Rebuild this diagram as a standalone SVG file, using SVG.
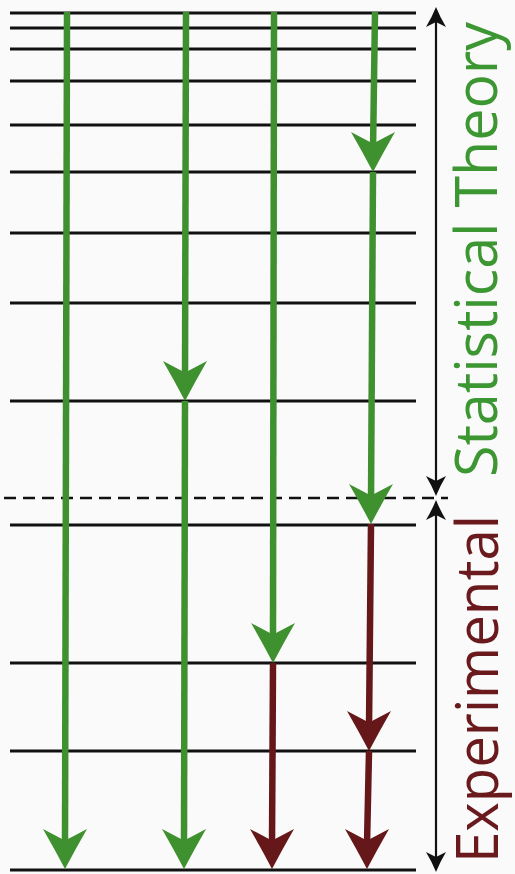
<svg xmlns="http://www.w3.org/2000/svg" width="515" height="874" viewBox="0 0 515 874">
<style>
.lvl{stroke:#111;stroke-width:3;fill:none}
.dash{stroke:#111;stroke-width:2.5;stroke-dasharray:12 7;fill:none}
.g{stroke:#3f912f;stroke-width:6.5;fill:none}
.m{stroke:#651719;stroke-width:6.5;fill:none}
.ax{stroke:#111;stroke-width:2.2;fill:none}
.lab{font-family:"Open Sans","Liberation Sans",sans-serif;font-size:58px}
</style>
<defs>
<path id="hd" d="M0,0 Q-10,-19 -22,-40 L-3,-30 L3,-30 L22,-40 Q10,-19 0,0 Z"/>
<path id="bh" d="M0,0 Q-4,-10 -10,-20 L0,-15 L10,-20 Q4,-10 0,0 Z"/>
</defs>
<rect width="515" height="874" fill="#fbfafa"/>
<g id="levels">
<line class="lvl" x1="10" y1="13" x2="416" y2="13"/>
<line class="lvl" x1="10" y1="28" x2="416" y2="28"/>
<line class="lvl" x1="10" y1="49" x2="416" y2="49"/>
<line class="lvl" x1="10" y1="81" x2="416" y2="81"/>
<line class="lvl" x1="10" y1="125" x2="416" y2="125"/>
<line class="lvl" x1="10" y1="172" x2="416" y2="172"/>
<line class="lvl" x1="10" y1="233" x2="416" y2="233"/>
<line class="lvl" x1="10" y1="303" x2="416" y2="303"/>
<line class="lvl" x1="10" y1="401" x2="416" y2="401"/>
<line class="dash" x1="4" y1="498" x2="448" y2="498"/>
<line class="lvl" x1="10" y1="525" x2="416" y2="525"/>
<line class="lvl" x1="10" y1="663" x2="416" y2="663"/>
<line class="lvl" x1="10" y1="751" x2="416" y2="751"/>
<line class="lvl" x1="10" y1="870" x2="416" y2="870"/>
</g>
<g id="connectors">
<line class="g" x1="67" y1="12" x2="65" y2="845"/>
<use href="#hd" transform="translate(65,869)" fill="#3f912f"/>
<line class="g" x1="186" y1="12" x2="185" y2="380"/>
<use href="#hd" transform="translate(185,401)" fill="#3f912f"/>
<line class="g" x1="185" y1="401" x2="184" y2="845"/>
<use href="#hd" transform="translate(184,869)" fill="#3f912f"/>
<line class="g" x1="274" y1="12" x2="273" y2="640"/>
<use href="#hd" transform="translate(273,663)" fill="#3f912f"/>
<line class="m" x1="273" y1="663" x2="272" y2="845"/>
<use href="#hd" transform="translate(272,869)" fill="#651719"/>
<line class="g" x1="375" y1="12" x2="373" y2="150"/>
<use href="#hd" transform="translate(373,172)" fill="#3f912f"/>
<line class="g" x1="373" y1="172" x2="371" y2="502"/>
<use href="#hd" transform="translate(371,524)" fill="#3f912f"/>
<line class="m" x1="371" y1="524" x2="369" y2="728"/>
<use href="#hd" transform="translate(369,751)" fill="#651719"/>
<line class="m" x1="369" y1="751" x2="367" y2="845"/>
<use href="#hd" transform="translate(367,869)" fill="#651719"/>
</g>
<g id="axis-theory">
<line class="ax" x1="436" y1="20" x2="436" y2="485"/>
<use href="#bh" transform="translate(436,7) rotate(180)" fill="#111"/>
<use href="#bh" transform="translate(436,496)" fill="#111"/>
</g>
<g id="axis-experimental">
<line class="ax" x1="436" y1="512" x2="436" y2="860"/>
<use href="#bh" transform="translate(436,500) rotate(180)" fill="#111"/>
<use href="#bh" transform="translate(436,872)" fill="#111"/>
</g>
<g id="label-theory">
<text class="lab" fill="#3c9632" transform="translate(497,477) rotate(-90)" textLength="455" lengthAdjust="spacingAndGlyphs">Statistical Theory</text>
</g>
<g id="label-experimental">
<text class="lab" fill="#6a1a1d" transform="translate(498,863) rotate(-90)" textLength="348" lengthAdjust="spacingAndGlyphs">Experimental</text>
</g>
</svg>
